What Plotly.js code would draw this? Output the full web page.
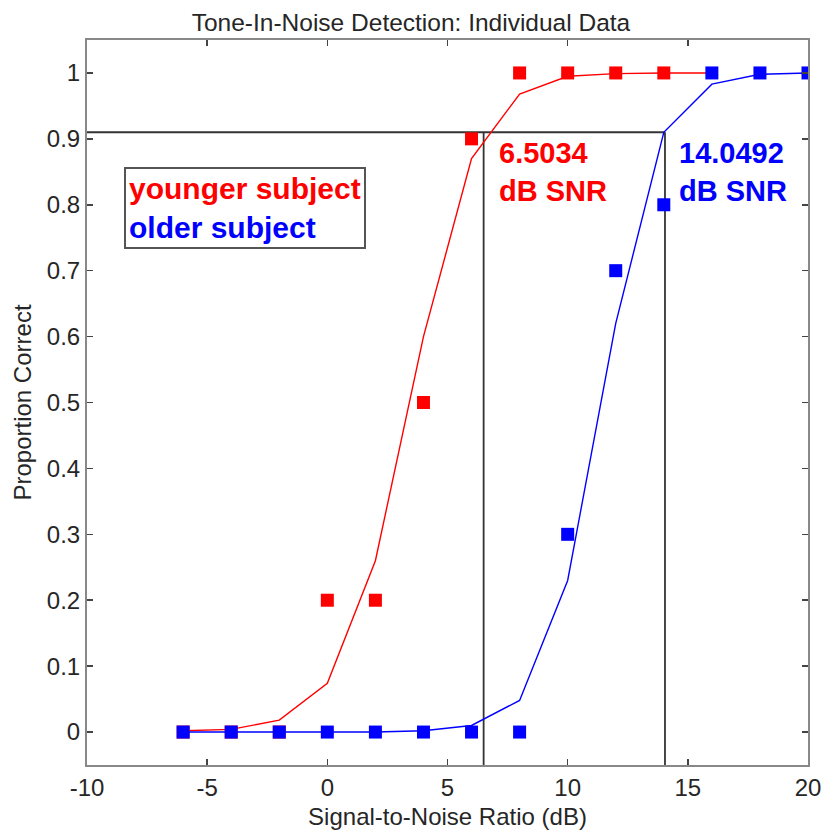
<!DOCTYPE html>
<html><head><meta charset="utf-8">
<script src="https://cdn.plot.ly/plotly-3.0.1.min.js"></script>
<style>body{margin:0;background:#fff}#c{width:822px;height:833px}</style>
</head><body><div id="c"></div>
<script>
// Data
const youngerX = [-6,-4,-2,0,2,4,6,8,10,12,14];
const youngerY = [0,0,0,0.2,0.2,0.5,0.9,1,1,1,1];
const olderX = [-6,-4,-2,0,2,4,6,8,10,12,14,16,18,20];
const olderY = [0,0,0,0,0,0,0,0,0.3,0.7,0.8,1,1,1];
const youngerFitX = [-6,-4,-2,0,2,4,6,8,10,12,14,16];
const youngerFitY = [0.002,0.004,0.018,0.074,0.26,0.6,0.87,0.968,0.995,0.999,1,1];
const olderFitX = [-6,-4,-2,0,2,4,6,8,10,12,14,16,18,20];
const olderFitY = [0,0,0,0,0,0.002,0.01,0.048,0.23,0.62,0.91,0.983,0.998,1];
const criterion = 0.91;
const thresholdYounger = 6.5034;
const thresholdOlder = 14.0492;
const xTicks = [-10,-5,0,5,10,15,20];
const xTickText = ['-10','-5','0','5','10','15','20'];
const yTicks = [0,0.1,0.2,0.3,0.4,0.5,0.6,0.7,0.8,0.9,1];
const yTickText = ['0','0.1','0.2','0.3','0.4','0.5','0.6','0.7','0.8','0.9','1'];

const red = '#ff0000', blue = '#0000ff', refc = '#333333';
const traces = [
  {x:[-10, thresholdOlder], y:[criterion, criterion], mode:'lines', line:{color:refc,width:1.8}, hoverinfo:'skip'},
  {x:[thresholdYounger, thresholdYounger], y:[-0.05, criterion], mode:'lines', line:{color:refc,width:1.8}, hoverinfo:'skip'},
  {x:[thresholdOlder, thresholdOlder], y:[-0.05, criterion], mode:'lines', line:{color:refc,width:1.8}, hoverinfo:'skip'},
  {x:youngerFitX, y:youngerFitY, mode:'lines', line:{color:red,width:1.4}},
  {x:youngerX, y:youngerY, mode:'markers', marker:{symbol:'square', color:red, size:13}},
  {x:olderFitX, y:olderFitY, mode:'lines', line:{color:blue,width:1.4}},
  {x:olderX, y:olderY, mode:'markers', marker:{symbol:'square', color:blue, size:13}}
];
const fam = 'Liberation Sans, Arial, sans-serif';
const tf = {family:fam, size:24, color:'#262626'};
const bf = {family:fam, size:29, color:red};
const layout = {
  width:822, height:833,
  margin:{l:87, r:14, t:40, b:68},
  paper_bgcolor:'#fff', plot_bgcolor:'#fff',
  showlegend:false,
  title:{text:'Tone-In-Noise Detection: Individual Data', font:{family:fam,size:24.5,color:'#262626'}, x:0.5, xanchor:'center', y:0.973, yanchor:'middle'},
  xaxis:{range:[-10,20], tickvals:xTicks, ticktext:xTickText, ticks:'inside', ticklen:6, tickcolor:'#444', tickwidth:1.5, showline:true, linecolor:'#888', linewidth:2, mirror:'ticks', showgrid:false, zeroline:false,
    tickfont:tf, title:{text:'Signal-to-Noise Ratio (dB)', font:tf, standoff:8}},
  yaxis:{range:[-0.05,1.05], tickvals:yTicks, ticktext:yTickText, ticks:'inside', ticklen:6, tickcolor:'#444', tickwidth:1.5, showline:true, linecolor:'#888', linewidth:2, mirror:'ticks', showgrid:false, zeroline:false,
    tickfont:tf, title:{text:'Proportion Correct', font:tf, standoff:8}},
  annotations:[
    {x:-8.46, y:0.857, xref:'x', yref:'y', xanchor:'left', yanchor:'top', align:'left', showarrow:false,
     text:'<b><span style="color:#ff0000">younger subject</span><br><span style="color:#0000ff">older subject</span></b>',
     font:Object.assign({},bf,{size:30}), bordercolor:'#555', borderwidth:2, borderpad:3, bgcolor:'#fff'},
    {x:7.06, y:0.906, xref:'x', yref:'y', xanchor:'left', yanchor:'top', align:'left', showarrow:false,
     text:'<b>'+thresholdYounger.toFixed(4)+'<br>dB SNR</b>', font:bf},
    {x:14.55, y:0.906, xref:'x', yref:'y', xanchor:'left', yanchor:'top', align:'left', showarrow:false,
     text:'<b>'+thresholdOlder.toFixed(4)+'<br>dB SNR</b>', font:Object.assign({},bf,{color:blue})}
  ]
};
Plotly.newPlot('c', traces, layout, {staticPlot:true, displayModeBar:false});
</script></body></html>
